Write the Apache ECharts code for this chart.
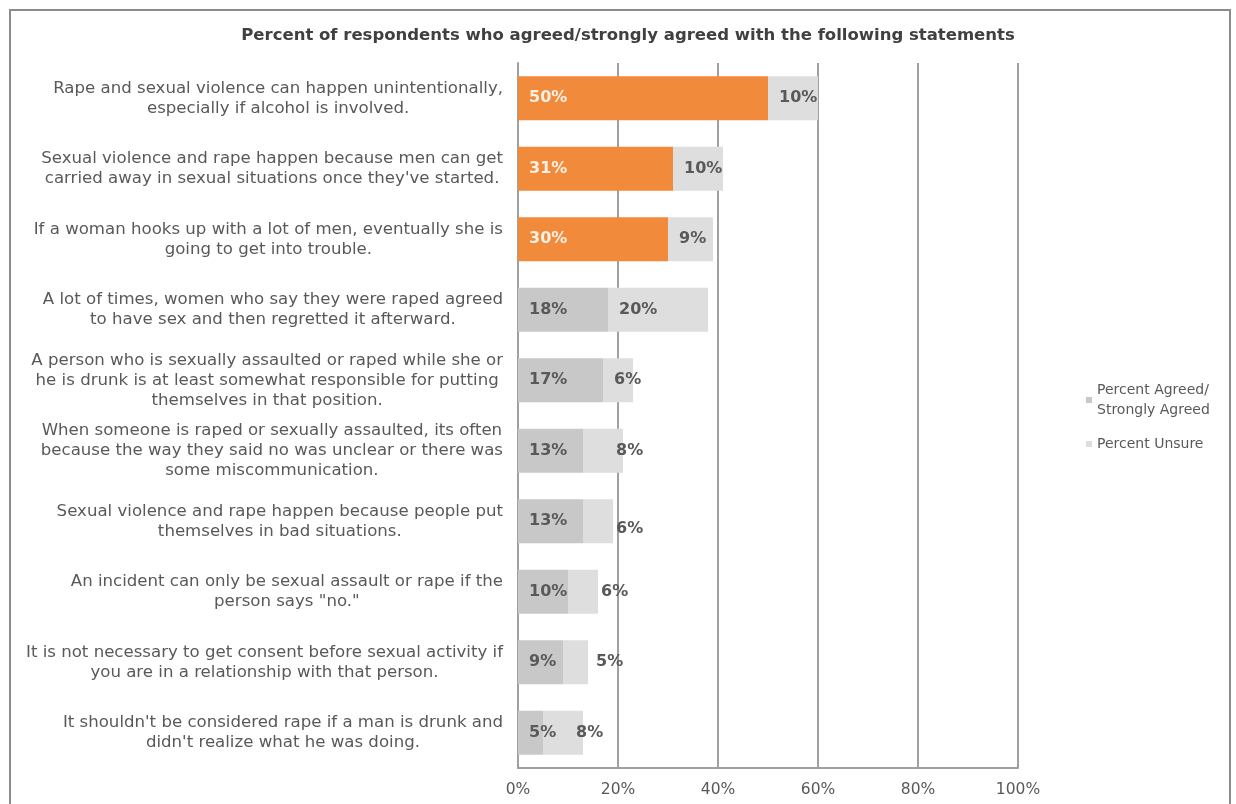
<!DOCTYPE html>
<html>
<head>
<meta charset="utf-8">
<script src="https://cdn.jsdelivr.net/npm/echarts@6/dist/echarts.min.js"></script>
<style>
  html, body { margin: 0; padding: 0; background: #fff; }
  #chart { width: 1236px; height: 804px; }
</style>
</head>
<body>
<div id="chart"></div>
<script>
const statements = [
  "Rape and sexual violence can happen unintentionally,\nespecially if alcohol is involved.",
  "Sexual violence and rape happen because men can get\ncarried away in sexual situations once they've started.",
  "If a woman hooks up with a lot of men, eventually she is\ngoing to get into trouble.",
  "A lot of times, women who say they were raped agreed\nto have sex and then regretted it afterward.",
  "A person who is sexually assaulted or raped while she or\nhe is drunk is at least somewhat responsible for putting\nthemselves in that position.",
  "When someone is raped or sexually assaulted, its often\nbecause the way they said no was unclear or there was\nsome miscommunication.",
  "Sexual violence and rape happen because people put\nthemselves in bad situations.",
  "An incident can only be sexual assault or rape if the\nperson says \"no.\"",
  "It is not necessary to get consent before sexual activity if\nyou are in a relationship with that person.",
  "It shouldn't be considered rape if a man is drunk and\ndidn't realize what he was doing."
];
const agreed = [50, 31, 30, 18, 17, 13, 13, 10, 9, 5];
const unsure = [10, 10, 9, 20, 6, 8, 6, 6, 5, 8];
const xTicks = [0, 20, 40, 60, 80, 100];

const highlightRows = 3;  // top three statements are drawn in orange
const orange = '#f28a3b';
const gray = '#c8c8c8';
const lightGray = '#dedede';
const textColor = '#595959';
const font = 'DejaVu Sans';

const chart = echarts.init(document.getElementById('chart'));

const agreedData = agreed.map((v, i) => i < highlightRows ? {
  value: v,
  itemStyle: { color: orange },
  label: { color: '#fdf1e6' }
} : v);

// the lower rows have their unsure label nudged right, as in the original
const unsureData = unsure.map((v, i) => {
  if (i < 5) return v;
  return { value: v, label: { offset: [22, i === 6 ? 8 : 0] } };
});

const labelStyle = {
  show: true,
  position: 'insideLeft',
  formatter: '{c}%',
  fontFamily: font,
  fontSize: 16,
  fontWeight: 'bold',
  color: textColor
};

const option = {
  animation: false,
  title: {
    text: 'Percent of respondents who agreed/strongly agreed with the following statements',
    left: 623,
    textAlign: 'center',
    top: 22,
    textStyle: { fontFamily: font, fontSize: 16.5, fontWeight: 'bold', color: '#404040' }
  },
  graphic: [{
    type: 'rect',
    shape: { x: 10, y: 10, width: 1220, height: 820 },
    style: { fill: 'none', stroke: '#8c8c8c', lineWidth: 2 },
    silent: true
  }],
  legend: {
    orient: 'vertical',
    left: 1086,
    top: 380,
    padding: 0,
    itemWidth: 6,
    itemHeight: 6,
    itemGap: 14,
    icon: 'rect',
    textStyle: { fontFamily: font, fontSize: 14, color: textColor, lineHeight: 20 },
    data: ['Percent Agreed/\nStrongly Agreed', 'Percent Unsure']
  },
  grid: { left: 518, right: 218, top: 63, bottom: 36, containLabel: false },
  xAxis: {
    type: 'value',
    min: xTicks[0],
    max: xTicks[xTicks.length - 1],
    interval: xTicks[1] - xTicks[0],
    axisLine: { show: true, lineStyle: { color: '#a0a0a0', width: 2 } },
    axisTick: { show: false },
    axisLabel: { formatter: '{value}%', fontFamily: font, fontSize: 15.5, color: textColor, margin: 14 },
    splitLine: { show: true, lineStyle: { color: '#a0a0a0', width: 2 } }
  },
  yAxis: {
    type: 'category',
    inverse: true,
    data: statements,
    axisLine: { show: true, lineStyle: { color: '#a0a0a0', width: 2 } },
    axisTick: { show: false },
    axisLabel: {
      margin: 15,
      formatter: v => v.split('\n').map(s => '{c|' + s + '}').join('\n'),
      rich: {
        c: { align: 'center', fontFamily: font, fontSize: 16.6, color: textColor, lineHeight: 20 }
      }
    }
  },
  series: [
    {
      name: 'Percent Agreed/\nStrongly Agreed',
      type: 'bar',
      stack: 'total',
      barWidth: 44,
      itemStyle: { color: gray },
      label: Object.assign({}, labelStyle, { distance: 11 }),
      data: agreedData
    },
    {
      name: 'Percent Unsure',
      type: 'bar',
      stack: 'total',
      barWidth: 44,
      itemStyle: { color: lightGray },
      label: Object.assign({}, labelStyle, { distance: 11 }),
      data: unsureData
    }
  ]
};

chart.setOption(option);
window.addEventListener('resize', () => chart.resize());
</script>
</body>
</html>
